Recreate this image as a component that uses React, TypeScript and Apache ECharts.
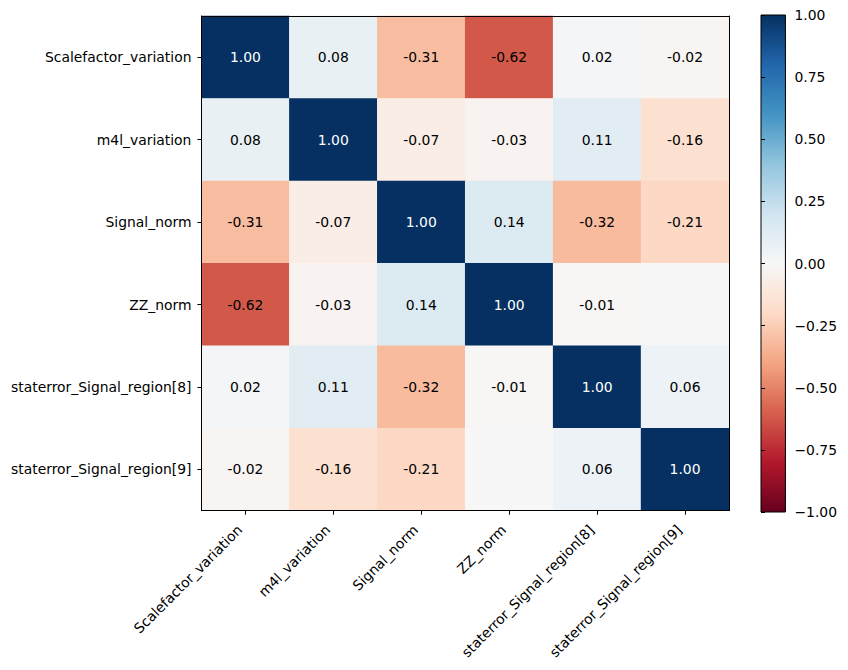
import React, { useEffect, useRef } from "react";
import * as echarts from "echarts";

const labels = [
  "Scalefactor_variation",
  "m4l_variation",
  "Signal_norm",
  "ZZ_norm",
  "staterror_Signal_region[8]",
  "staterror_Signal_region[9]",
];

const row0 = [1.0, 0.08, -0.31, -0.62, 0.02, -0.02];
const row1 = [0.08, 1.0, -0.07, -0.03, 0.11, -0.16];
const row2 = [-0.31, -0.07, 1.0, 0.14, -0.32, -0.21];
const row3 = [-0.62, -0.03, 0.14, 1.0, -0.01, 0.0];
const row4 = [0.02, 0.11, -0.32, -0.01, 1.0, 0.06];
const row5 = [-0.02, -0.16, -0.21, 0.0, 0.06, 1.0];
const matrix = [row0, row1, row2, row3, row4, row5];

const colorbarTicks = [-1, -0.75, -0.5, -0.25, 0, 0.25, 0.5, 0.75, 1];

const rdbu = [
  "#67001f", "#b2182b", "#d6604d", "#f4a582", "#fddbc7", "#f7f7f7",
  "#d1e5f0", "#92c5de", "#4393c3", "#2166ac", "#053061",
];

const FONT = "DejaVu Sans";

export default function App() {
  const ref = useRef<HTMLDivElement>(null);
  useEffect(() => {
    if (!ref.current) return;
    const chart = echarts.init(ref.current, null, { renderer: "svg" });
    const data: any[] = [];
    matrix.forEach((row, r) => {
      row.forEach((v, c) => {
        data.push({
          value: [c, r, v],
          label: {
            color: v > 0.7 ? "#ffffff" : "#000000",
            formatter: Math.abs(v) < 0.005 ? "" : v.toFixed(2),
          },
        });
      });
    });
    const stops = rdbu
      .map((c, i) => ({ offset: 1 - i / (rdbu.length - 1), color: c }))
      .reverse();
    const catAxisCommon = {
      type: "category",
      data: labels,
      gridIndex: 0,
      z: 10,
      axisLine: { show: true, lineStyle: { color: "#000", width: 1 } },
      splitLine: { show: false },
      splitArea: { show: false },
    };
    const option: any = {
      animation: false,
      backgroundColor: "#ffffff",
      grid: [
        { left: 193, top: 8, width: 528, height: 496, containLabel: false },
        { left: 753, top: 7, width: 26, height: 497, containLabel: false },
      ],
      xAxis: [
        {
          ...catAxisCommon,
          position: "bottom",
          axisTick: { show: true, alignWithLabel: true, length: 4, lineStyle: { color: "#000" } },
          axisLabel: {
            rotate: 45,
            interval: 0,
            margin: 11,
            padding: [0, 8, 0, 0],
            color: "#000",
            fontFamily: FONT,
            fontSize: 13.9,
          },
        },
        {
          ...catAxisCommon,
          position: "top",
          axisTick: { show: false },
          axisLabel: { show: false },
        },
        {
          type: "value",
          gridIndex: 1,
          min: 0,
          max: 1,
          show: false,
        },
      ],
      yAxis: [
        {
          ...catAxisCommon,
          inverse: true,
          position: "left",
          axisTick: { show: true, alignWithLabel: true, length: 4, lineStyle: { color: "#000" } },
          axisLabel: {
            interval: 0,
            margin: 10,
            color: "#000",
            fontFamily: FONT,
            fontSize: 13.9,
          },
        },
        {
          ...catAxisCommon,
          inverse: true,
          position: "right",
          axisTick: { show: false },
          axisLabel: { show: false },
        },
        {
          type: "value",
          gridIndex: 1,
          position: "right",
          min: -1,
          max: 1,
          interval: 0.25,
          z: 10,
          axisLine: { show: false },
          axisTick: { show: true, length: 4, lineStyle: { color: "#000" } },
          splitLine: { show: false },
          axisLabel: {
            margin: 9,
            color: "#000",
            fontFamily: FONT,
            fontSize: 13.9,
            formatter: (v: number) =>
              colorbarTicks.includes(v) ? (v < 0 ? "\u2212" + Math.abs(v).toFixed(2) : v.toFixed(2)) : "",
          },
        },
      ],
      visualMap: {
        show: false,
        type: "continuous",
        min: -1,
        max: 1,
        seriesIndex: 0,
        inRange: { color: rdbu },
      },
      series: [
        {
          type: "heatmap",
          xAxisIndex: 0,
          yAxisIndex: 0,
          data,
          label: {
            show: true,
            fontFamily: FONT,
            fontSize: 13.9,
          },
          itemStyle: { borderWidth: 0 },
          emphasis: { disabled: true },
        },
        {
          type: "custom",
          xAxisIndex: 2,
          yAxisIndex: 2,
          data: [[0, -1, 1, 1]],
          encode: { x: [0, 2], y: [1, 3] },
          renderItem: (params: any, api: any) => {
            const p0 = api.coord([api.value(0), api.value(3)]);
            const p1 = api.coord([api.value(2), api.value(1)]);
            return {
              type: "rect",
              shape: { x: p0[0], y: p0[1], width: p1[0] - p0[0], height: p1[1] - p0[1] },
              style: {
                fill: new echarts.graphic.LinearGradient(0, 0, 0, 1, stops),
                stroke: "#000",
                lineWidth: 1,
              },
            };
          },
        },
      ],
    };
    chart.setOption(option);
    return () => chart.dispose();
  }, []);
  return <div ref={ref} style={{ width: 832, height: 654 }} />;
}
